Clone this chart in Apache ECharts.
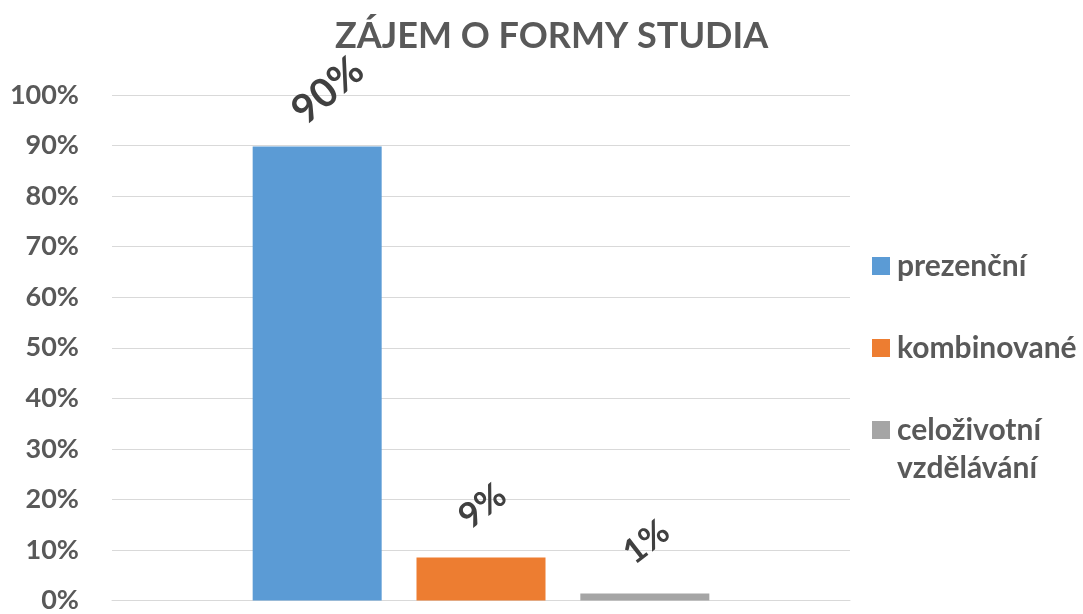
<!DOCTYPE html>
<html>
<head>
<meta charset="utf-8">
<script src="https://cdn.jsdelivr.net/npm/echarts@6/dist/echarts.min.js"></script>
<style>
  html, body { margin: 0; padding: 0; background: #fff; }
  #chart { width: 1083px; height: 614px; }
</style>
</head>
<body>
<div id="chart"></div>
<script>
// values (percent)
const categories = ['']
const seriesNames = ['prezenční', 'kombinované', 'celoživotní vzdělávání']
const prezencni = [89.8]
const kombinovane = [8.5]
const celozivotni = [1.4]
const colors = ['#5B9BD5', '#ED7D31', '#A5A5A5']

const chart = echarts.init(document.getElementById('chart'))

const labelBase = {
  show: true,
  position: 'top',
  rotate: 38,
  align: 'center',
  verticalAlign: 'middle',
  color: '#404040',
  fontFamily: 'Lato',
  fontWeight: 'bold',
  formatter: (p) => Math.round(p.value) + '%'
}

const legendText = {
  color: '#595959',
  fontFamily: 'Lato',
  fontWeight: 'bold',
  fontSize: 30,
  lineHeight: 36,
  padding: [0, 0, 0, 2]
}

const option = {
  animation: false,
  title: {
    text: 'ZÁJEM O FORMY STUDIA',
    left: 330,
    top: 13,
    textStyle: {
      color: '#595959',
      fontFamily: 'Lato',
      fontWeight: 'bold',
      fontSize: 36
    }
  },
  legend: [
    {
      data: [seriesNames[0]],
      orient: 'vertical',
      left: 872,
      top: 248,
      padding: 0,
      itemWidth: 18,
      itemHeight: 18,
      icon: 'rect',
      textStyle: legendText
    },
    {
      data: [seriesNames[1]],
      orient: 'vertical',
      left: 872,
      top: 330,
      padding: 0,
      itemWidth: 18,
      itemHeight: 18,
      icon: 'rect',
      textStyle: legendText
    },
    {
      data: [seriesNames[2]],
      orient: 'vertical',
      left: 872,
      top: 411,
      padding: 0,
      itemWidth: 18,
      itemHeight: 76,
      icon: 'path://M0,0h0.01v0.01h-0.01z M0,5.6h10v10h-10z M0,42.2h0.01v0.01h-0.01z',
      formatter: () => 'celoživotní\nvzdělávání',
      textStyle: Object.assign({}, legendText, { lineHeight: 38 })
    }
  ],
  grid: {
    left: 112,
    right: 233,
    top: 95,
    bottom: 11
  },
  xAxis: {
    type: 'category',
    data: categories,
    axisTick: { show: false },
    axisLabel: { show: false },
    axisLine: { lineStyle: { color: '#D9D9D9', width: 1 } }
  },
  yAxis: {
    type: 'value',
    min: 0,
    max: 100,
    interval: 10,
    axisLine: { show: false },
    axisTick: { show: false },
    axisLabel: {
      formatter: '{value}%',
      margin: 33,
      color: '#595959',
      fontFamily: 'Lato',
      fontWeight: 'bold',
      fontSize: 27
    },
    splitLine: { lineStyle: { color: '#D9D9D9', width: 1 } }
  },
  series: [
    {
      name: seriesNames[0],
      type: 'bar',
      data: prezencni,
      barWidth: 129,
      barGap: '27%',
      itemStyle: { color: colors[0] },
      label: Object.assign({}, labelBase, { fontSize: 40, rotate: 40, distance: 47, offset: [14, 0] })
    },
    {
      name: seriesNames[1],
      type: 'bar',
      data: kombinovane,
      barWidth: 129,
      barGap: '27%',
      itemStyle: { color: colors[1] },
      label: Object.assign({}, labelBase, { fontSize: 35, distance: 50, offset: [2, 0] })
    },
    {
      name: seriesNames[2],
      type: 'bar',
      data: celozivotni,
      barWidth: 129,
      barGap: '27%',
      itemStyle: { color: colors[2] },
      label: Object.assign({}, labelBase, { fontSize: 34, distance: 50, offset: [2, 0] })
    }
  ]
}

chart.setOption(option)
window.addEventListener('resize', () => chart.resize())
</script>
</body>
</html>
